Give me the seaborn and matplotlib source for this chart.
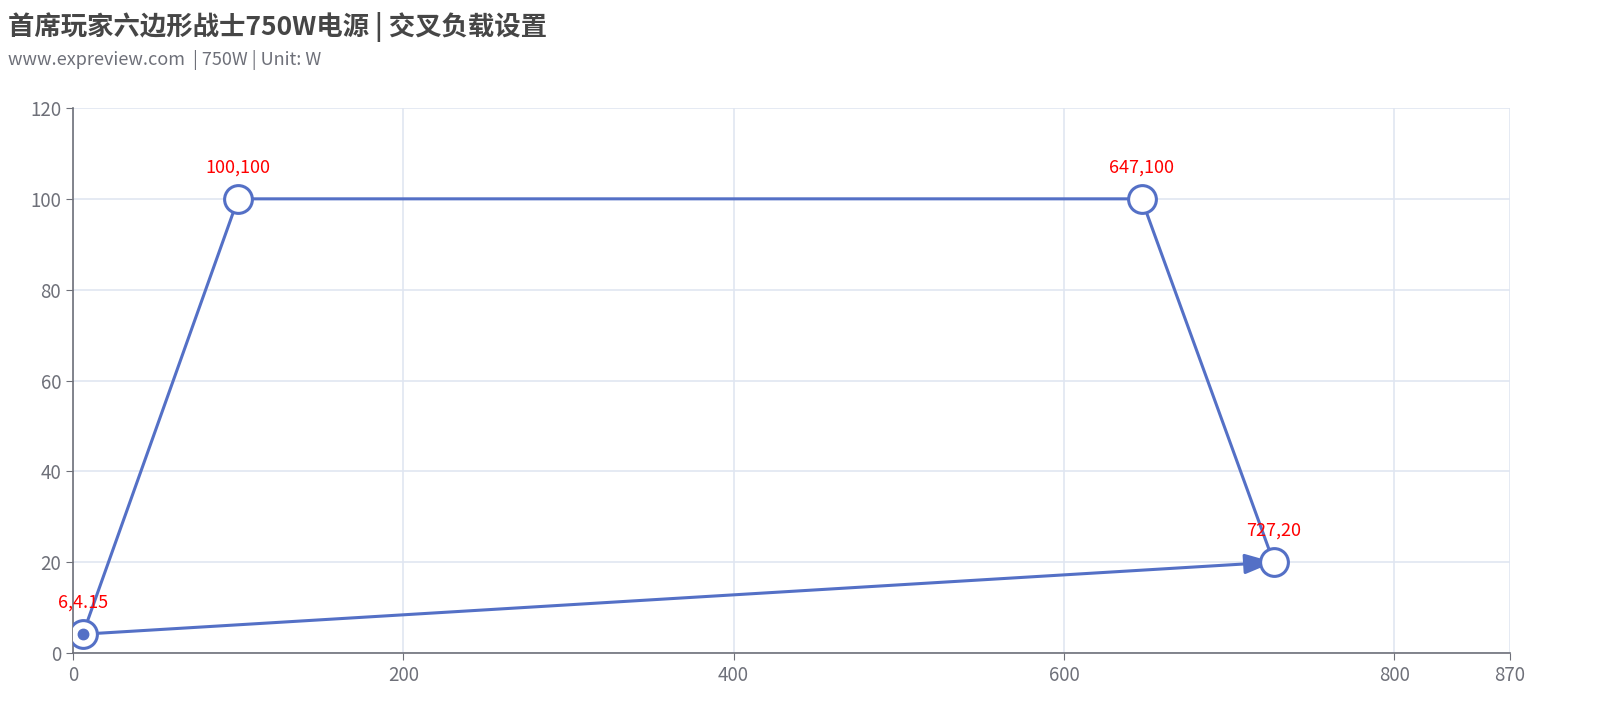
import matplotlib
matplotlib.use("Agg")
import matplotlib.pyplot as plt
import seaborn as sns
import pandas as pd

# load points (W): +12V load vs 3.3V+5V load
x_vals = [6, 100, 647, 727]
y_vals = [4.15, 100, 100, 20]
point_labels = ["6,4.15", "100,100", "647,100", "727,20"]
x_ticks = [0, 200, 400, 600, 800, 870]
y_ticks = [0, 20, 40, 60, 80, 100, 120]

title = "首席玩家六边形战士750W电源 | 交叉负载设置"
subtitle = "www.expreview.com  | 750W | Unit: W"

sns.set_style("white")
plt.rcParams['font.family'] = ['Noto Sans CJK SC', 'DejaVu Sans']

blue = "#5470c6"
axis_col = "#6e7079"
grid_col = "#e0e6f1"

df = pd.DataFrame({"x": x_vals, "y": y_vals})

fig = plt.figure(figsize=(16.2, 7.2), dpi=100)
ax = fig.add_axes([0.045, 0.093, 0.887, 0.757])

sns.lineplot(data=df, x="x", y="y", sort=False, color=blue, linewidth=2.2,
             marker="o", markersize=20, markerfacecolor="white",
             markeredgecolor=blue, markeredgewidth=2.2, ax=ax, zorder=3)

# closing segment back to the first point, with an arrow at the end
ax.annotate("", xy=(x_vals[-1], y_vals[-1]), xytext=(x_vals[0], y_vals[0]),
            arrowprops=dict(arrowstyle="-|>,head_length=0.8,head_width=0.28",
                            color=blue, lw=2.2, mutation_scale=22,
                            shrinkA=0, shrinkB=0),
            zorder=2)
ax.plot(x_vals[0], y_vals[0], "o", color=blue, markersize=7.5, zorder=4)

for xv, yv, lab in zip(x_vals, y_vals, point_labels):
    ax.annotate(lab, (xv, yv), xytext=(0, 16), textcoords="offset points",
                ha="center", va="bottom", color="red", fontsize=13)

ax.set_xlim(0, 870)
ax.set_ylim(0, 120)
ax.set_xticks(x_ticks)
ax.set_yticks(y_ticks)
ax.grid(True, color=grid_col, linewidth=1.2)
ax.set_axisbelow(True)
ax.set_xlabel("")
ax.set_ylabel("")
for s in ["top", "right"]:
    ax.spines[s].set_visible(False)
for s in ["left", "bottom"]:
    ax.spines[s].set_color(axis_col)
    ax.spines[s].set_linewidth(1.2)
ax.tick_params(axis="both", colors=axis_col, labelsize=13.5, length=5,
               direction="out", left=True, bottom=True)

fig.text(0.005, 0.963, title, fontsize=19, fontweight="bold", color="#464646",
         va="center", ha="left")
fig.text(0.005, 0.917, subtitle, fontsize=13, color=axis_col,
         va="center", ha="left")

fig.savefig("out.png", dpi=100, facecolor="white")
